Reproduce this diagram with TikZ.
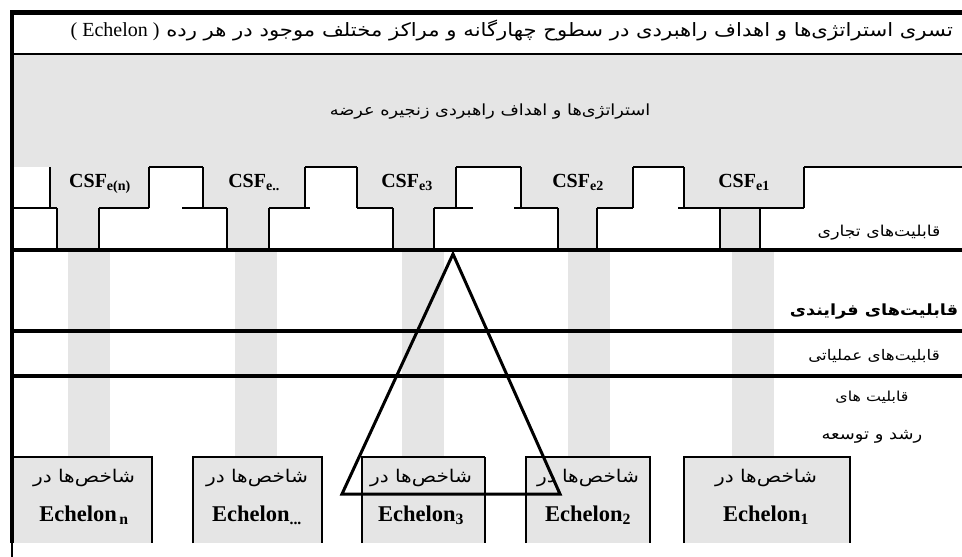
\documentclass[tikz,border=0pt]{standalone}
\usepackage{fontspec}
\setmainfont{Liberation Serif}
\newfontfamily\fa[Script=Arabic,FakeStretch=1.15]{DejaVu Sans}
\TeXXeTstate=1
\definecolor{panel}{RGB}{229,229,229}

\begin{document}
\begin{tikzpicture}[x=1pt,y=-1pt,
  rule/.style={line width=4.2pt},
  edge/.style={line width=1.1pt},
  falabel/.style={inner sep=0pt,font=\fa\fontsize{15}{17}\selectfont},
  csflabel/.style={inner sep=0pt,anchor=base,font=\fontsize{20}{22}\selectfont\bfseries},
  echlabel/.style={inner sep=0pt,anchor=base,font=\fontsize{22.5}{24}\selectfont\bfseries}]
\useasboundingbox (0,0) rectangle (962,557);

% grey band holding the strategy row and the CSF row
\fill[panel] (14,54) rectangle (962,250);
% white cut-outs between the T shapes (upper row)
\foreach \a/\b in {14/50,149/203,305/357,456/521,633/684,804/962}
  \fill[white] (\a,167) rectangle (\b,208);
% white cut-outs between the stems (lower row)
\foreach \a/\b in {14/57,99/227,269/393,434/558,597/720,760/962}
  \fill[white] (\a,208) rectangle (\b,250);

% grey stripes running down to the echelon boxes
\foreach \a in {68,235,402,568,732}
  \fill[panel] (\a,250) rectangle (\a+42,457);

% echelon boxes
\foreach \a/\b in {14/152,193/322,362/485,526/650,684/850}
  \fill[panel] (\a,457) rectangle (\b,543);
\draw[edge] (13,457) -- (153,457) (152,457) -- (152,543);
\draw[edge] (193,543) -- (193,457) -- (322,457) -- (322,543);
\draw[edge] (362,543) -- (362,457) -- (485,457);
\draw[line width=2.4pt] (485,457) -- (485,543);
\draw[edge] (526,543) -- (526,457) -- (650,457) -- (650,543);
\draw[edge] (684,543) -- (684,457) -- (850,457) -- (850,543);

% outlines of the cut-outs
\foreach \x in {50,149,203,305,357,456,521,633,684,804}
  \draw[edge] (\x,167) -- (\x,208);
\foreach \a/\b in {149/203,305/357,456/521,633/684,804/962}
  \draw[edge] (\a,167) -- (\b,167);
\foreach \x in {57,99,227,269,393,434,558,597,720,760}
  \draw[edge] (\x,208) -- (\x,250);
\foreach \a/\b in {14/57,99/149,182/227,269/310,357/393,434/473,514/558,597/633}
  \draw[edge] (\a,208) -- (\b,208);
\draw[line width=1.8pt] (678,208) -- (804,208);

% frame and level rules
\draw[line width=1.2pt] (14,54) -- (962,54);
\draw[line width=5pt] (10,12.5) -- (962,12.5);
\draw[rule] (12,10) -- (12,543);
\draw[line width=1.5pt] (12,543) -- (12,557);
\foreach \y in {250,331,376}
  \draw[rule] (10,\y) -- (962,\y);

% texts
\node[falabel,font=\fa\fontsize{18.4}{20}\selectfont,anchor=east] (title) at (953,31)
  {\beginR تسری استراتژی^^^^200cها و اهداف راهبردی در سطوح چهارگانه و مراکز مختلف موجود در هر رده \beginL{\rmfamily\fontsize{20}{22}\selectfont (\ Echelon\ )}\endL\endR};
\node[falabel,font=\fa\fontsize{15.4}{17}\selectfont] (strategy) at (490,112)
  {\beginR استراتژی^^^^200cها و اهداف راهبردی زنجیره عرضه\endR};

\node[csflabel] (csfn) at (100,187) {CSF\textsubscript{e(n)}};
\node[csflabel] (csfd) at (254,187) {CSF\textsubscript{e..}};
\node[csflabel] (csf3) at (407,187) {CSF\textsubscript{e3}};
\node[csflabel] (csf2) at (578,187) {CSF\textsubscript{e2}};
\node[csflabel] (csf1) at (744,187) {CSF\textsubscript{e1}};

\node[falabel] (business) at (879,233) {\beginR قابلیت^^^^200cهای تجاری\endR};
\node[falabel,font=\fa\bfseries\fontsize{15.4}{17}\selectfont] (process) at (874,312) {\beginR قابلیت^^^^200cهای فرایندی\endR};
\node[falabel,font=\fa\fontsize{14.6}{17}\selectfont] (operation) at (874,356) {\beginR قابلیت^^^^200cهای عملیاتی\endR};
\node[falabel,font=\fa\fontsize{13.8}{16}\selectfont] (growthA) at (872,397) {\beginR قابلیت های\endR};
\node[falabel,font=\fa\fontsize{15.6}{17}\selectfont] (growthB) at (872,437) {\beginR رشد و توسعه\endR};

\foreach \n/\x/\s in {en/84/{\,n},ed/257/{...},e3/421/3,e2/588/2,e1/766/1}{
  \node[falabel,font=\fa\fontsize{17.5}{19}\selectfont] (k\n) at (\x,478) {\beginR شاخص^^^^200cها در\endR};
  \node[echlabel] (h\n) at (\x,521) {Echelon\textsubscript{\s}};
}

% pyramid drawn over everything
\coordinate (apex) at (453,254);
\coordinate (baseR) at (560,494);
\coordinate (baseL) at (342,494);
\draw[line width=3pt,line join=miter] (apex) -- (baseR) -- (baseL) -- cycle;
\end{tikzpicture}
\end{document}
